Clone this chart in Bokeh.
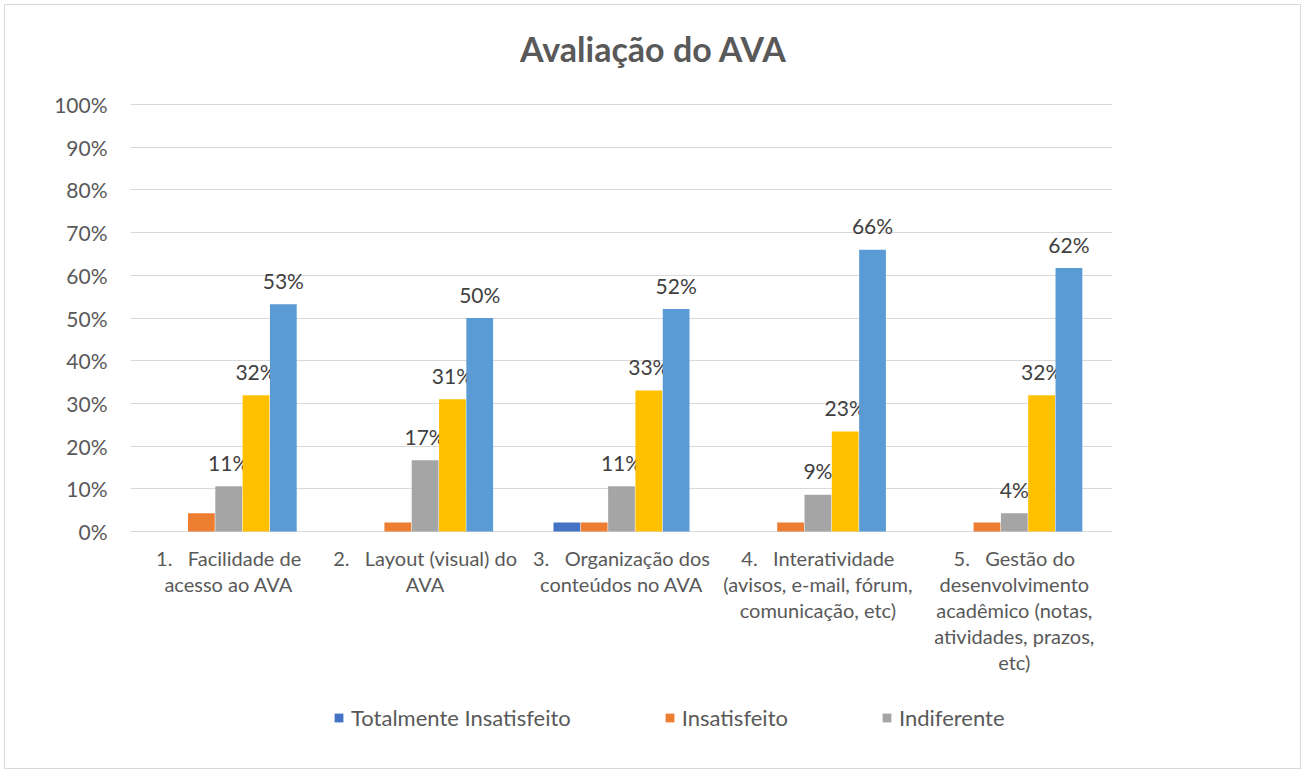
from bokeh.plotting import figure
from bokeh.models import (Range1d, FixedTicker, Label, Legend, LegendItem,
                          ColumnDataSource, NumeralTickFormatter)
from bokeh.core.properties import value
from bokeh.embed import file_html
from bokeh.resources import INLINE

# ---- data ----
NB = "\u00a0"
categories = [
    "1." + NB * 3 + "Facilidade de\nacesso ao AVA",
    "2." + NB * 3 + "Layout (visual) do\nAVA",
    "3." + NB * 3 + "Organização dos\nconteúdos no AVA",
    "4." + NB * 3 + "Interatividade\n(avisos, e-mail, fórum,\ncomunicação, etc)",
    "5." + NB * 3 + "Gestão do\ndesenvolvimento\nacadêmico (notas,\natividades, prazos,\netc)",
]
series_names = ["Totalmente Insatisfeito", "Insatisfeito", "Indiferente",
                "Satisfeito", "Totalmente Satisfeito"]
totalmente_insatisfeito = [0.0, 0.0, 0.021, 0.0, 0.0]
insatisfeito = [0.043, 0.021, 0.021, 0.021, 0.021]
indiferente = [0.106, 0.167, 0.106, 0.086, 0.043]
satisfeito = [0.319, 0.310, 0.330, 0.234, 0.319]
totalmente_satisfeito = [0.532, 0.500, 0.521, 0.660, 0.617]
y_ticks = [0.0, 0.1, 0.2, 0.3, 0.4, 0.5, 0.6, 0.7, 0.8, 0.9, 1.0]

series = [totalmente_insatisfeito, insatisfeito, indiferente, satisfeito,
          totalmente_satisfeito]
colors = ["#4472C4", "#ED7D31", "#A5A5A5", "#FFC000", "#5B9BD5"]
show_labels = [False, False, True, True, True]
legend_shown = 3  # the reference legend only shows its first three entries

FONT = "Lato"
W, H = 1297, 765
ORIGIN = 5                       # canvas offset in the page (margin + border)
PX_PER_UNIT = 427.0              # 0% -> 100% spans 427 px
ZERO_Y, FRAME_TOP, FRAME_BOTTOM = 531, 8, 760   # page pixels
FRAME_LEFT, FRAME_RIGHT = 130, 1112

y_end = (ZERO_Y - FRAME_TOP) / PX_PER_UNIT
y_start = -(FRAME_BOTTOM - ZERO_Y) / PX_PER_UNIT

p = figure(width=W, height=H, output_backend="svg", toolbar_location=None,
           x_range=Range1d(0, 5), y_range=Range1d(y_start, y_end),
           min_border_left=FRAME_LEFT - ORIGIN,
           min_border_right=W - (FRAME_RIGHT - ORIGIN),
           min_border_top=FRAME_TOP - ORIGIN,
           min_border_bottom=H - (FRAME_BOTTOM - ORIGIN),
           margin=(4, 0, 0, 4),
           styles={"border": "1px solid #D9D9D9"})
p.outline_line_color = None
p.border_fill_color = "white"

centers = [i + 0.5 for i in range(len(categories))]
bw = 1.0 / (5 + 2.19)

renderers = []
for k, (vals, col, name) in enumerate(zip(series, colors, series_names)):
    xs = [c + (k - 2) * bw for c in centers]
    src = ColumnDataSource(dict(x=xs, top=vals,
                                lab=["%d%%" % int(v * 100 + 0.5) for v in vals]))
    r = p.vbar(x="x", top="top", bottom=0, width=bw * 0.98, source=src,
               fill_color=col, line_color=None)
    renderers.append(r)
    if show_labels[k]:
        p.text(x="x", y="top", text="lab", source=src,
               text_font=value(FONT), text_font_size="21px",
               text_color="#404040", text_align="center",
               text_baseline="middle", y_offset=-24)

# category labels under the 0% line
cat_src = ColumnDataSource(dict(x=centers, y=[0] * len(centers), t=categories))
p.text(x="x", y="y", text="t", source=cat_src, text_font=value(FONT),
       text_font_size="20px", text_color="#595959", text_align="center",
       text_baseline="top", text_line_height=1.09, y_offset=14)

p.xaxis.visible = False

p.yaxis.ticker = FixedTicker(ticks=y_ticks)
p.yaxis.formatter = NumeralTickFormatter(format="0%")
p.yaxis.major_label_text_font = FONT
p.yaxis.major_label_text_font_size = "21px"
p.yaxis.major_label_text_color = "#595959"
p.yaxis.major_label_standoff = 17
p.yaxis.major_tick_line_color = None
p.yaxis.minor_tick_line_color = None
p.yaxis.axis_line_color = None

p.xgrid.grid_line_color = None
p.ygrid.ticker = FixedTicker(ticks=y_ticks)
p.ygrid.grid_line_color = "#D9D9D9"
p.ygrid.grid_line_width = 1

# title (screen coords relative to the plot frame: x from its left, y up from its bottom)
p.add_layout(Label(x=653 - FRAME_LEFT, y=FRAME_BOTTOM - 48,
                   x_units="screen", y_units="screen",
                   text="Avaliação do AVA", text_font=FONT,
                   text_font_style="bold", text_font_size="34px",
                   text_color="#595959", text_align="center",
                   text_baseline="middle"))

# legend (first three entries, as visible in the reference)
legend = Legend(items=[LegendItem(label=series_names[i], renderers=[renderers[i]])
                       for i in range(legend_shown)],
                orientation="horizontal",
                location=(333 - FRAME_LEFT, FRAME_BOTTOM - 731),
                label_text_font=FONT, label_text_font_size="22px",
                label_text_color="#595959", glyph_width=11, glyph_height=11,
                label_standoff=7, spacing=93, padding=0, margin=0,
                border_line_color=None, background_fill_alpha=0)
p.add_layout(legend, "center")

html = file_html(p, INLINE)
open("out.html", "w").write(html)
